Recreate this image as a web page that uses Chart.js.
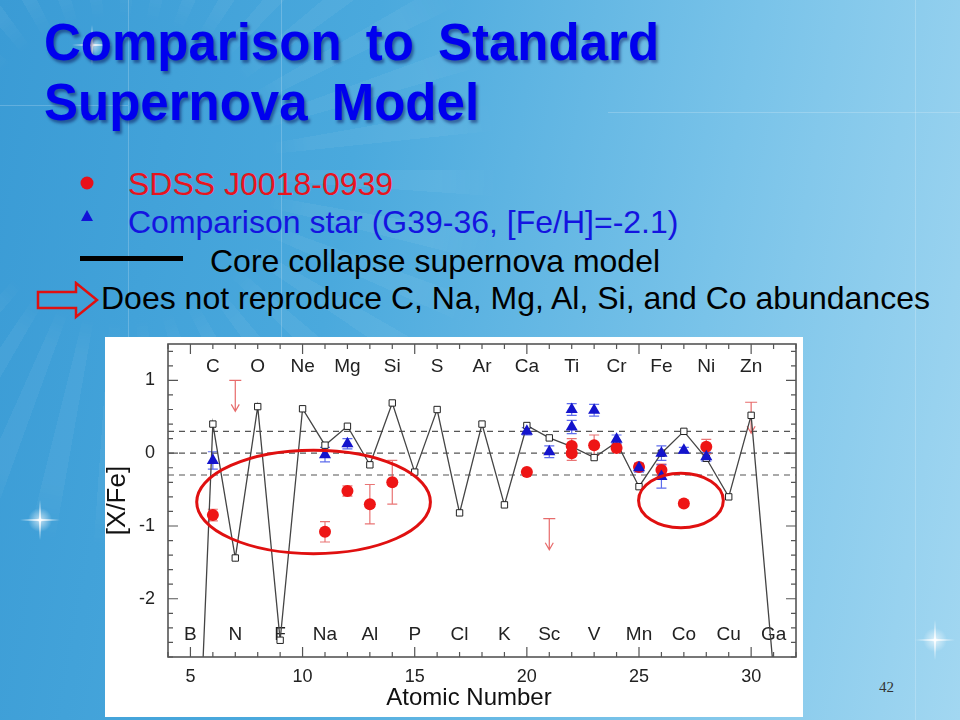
<!DOCTYPE html>
<html>
<head>
<meta charset="utf-8">
<title>Comparison to Standard Supernova Model</title>
<script src="https://cdn.jsdelivr.net/npm/chart.js@4.4.1/dist/chart.umd.min.js"></script>
<style>
html, body { margin: 0; padding: 0; }
body {
    width: 960px; height: 720px; position: relative; overflow: hidden;
    font-family: "Liberation Sans", Arial, sans-serif;
    background: linear-gradient(100deg, #3a9bd5 0%, #4aa9dd 35%, #79c3e9 70%, #a2d7f1 100%);
}
.rays {
    position: absolute; left: 0; top: 0; width: 960px; height: 720px;
    background: repeating-conic-gradient(from 0deg at 120px 170px, rgba(255,255,255,0.05) 0deg 4deg, rgba(255,255,255,0) 4deg 10deg);
    -webkit-mask-image: radial-gradient(circle at 120px 170px, transparent 150px, #000 190px, #000 320px, transparent 380px);
    mask-image: radial-gradient(circle at 120px 170px, transparent 150px, #000 190px, #000 320px, transparent 380px);
}
.hline, .vline { position: absolute; background: rgba(255,255,255,0.2); }
.hline { height: 1px; }
.vline { width: 1px; }
.spark {
    position: absolute; width: 40px; height: 40px; margin: -20px 0 0 -20px;
    background: radial-gradient(circle, rgba(255,255,255,0.95) 0, rgba(255,255,255,0.5) 3px, rgba(255,255,255,0) 12px);
}
.spark::before, .spark::after {
    content: ""; position: absolute; left: 0; top: 19px; width: 40px; height: 2px;
    background: linear-gradient(90deg, rgba(255,255,255,0), rgba(255,255,255,0.9), rgba(255,255,255,0));
}
.spark::after { transform: rotate(90deg); }
.title {
    position: absolute; left: 44px; font-weight: bold; font-size: 51px; line-height: 1;
    color: #0000ee; text-shadow: 2px 3px 3px rgba(0,0,70,0.45); white-space: nowrap; word-spacing: 10px;
}
.legend { position: absolute; font-size: 32px; line-height: 1; white-space: nowrap; }
#panel {
    position: absolute; left: 105px; top: 337px; width: 698px; height: 380px; background: #fff;
}
.pagenum { position: absolute; left: 879px; top: 679px; font-family: "Liberation Serif", "DejaVu Serif", serif; font-size: 15px; color: #333; }
</style>
</head>
<body>
<div class="rays"></div>
<div class="vline" style="left:128px; top:0; height:340px;"></div>
<div class="vline" style="left:281px; top:0; height:340px;"></div>
<div class="vline" style="left:915px; top:0; height:720px;"></div>
<div class="hline" style="left:0; top:105px; width:128px;"></div>
<div class="hline" style="left:608px; top:112px; width:352px;"></div>
<div class="spark" style="left:92px; top:45px;"></div>
<div class="spark" style="left:40px; top:520px;"></div>
<div class="spark" style="left:935px; top:640px;"></div>

<div class="title" style="top:17px;">Comparison to Standard</div>
<div class="title" style="top:77px;">Supernova Model</div>

<svg style="position:absolute; left:80px; top:176px;" width="16" height="16"><circle cx="7" cy="7" r="6.5" fill="#e8101a"/></svg>
<div class="legend" style="left:128px; top:168px; color:#e8141e;">SDSS J0018-0939</div>
<svg style="position:absolute; left:80px; top:209px;" width="14" height="14"><path d="M7,1 L13,12 L1,12 Z" fill="#1212d8"/></svg>
<div class="legend" style="left:128px; top:206px; color:#1414e0;">Comparison star (G39-36, [Fe/H]=-2.1)</div>
<div style="position:absolute; left:80px; top:256px; width:103px; height:5px; background:#000;"></div>
<div class="legend" style="left:210px; top:245px; color:#000;">Core collapse supernova model</div>
<svg style="position:absolute; left:36px; top:281px;" width="64" height="40">
    <path d="M2,11 H40 V2 L61,19 L40,36 V27 H2 Z" fill="none" stroke="#e01010" stroke-width="2.5" stroke-linejoin="miter"/>
</svg>
<div class="legend" style="left:101px; top:282px; color:#000;">Does not reproduce C, Na, Mg, Al, Si, and Co abundances</div>

<div id="panel"><canvas id="abundChart" width="698" height="380"></canvas></div>
<div class="pagenum">42</div>

<script>
// Atomic number axis + symbols (Z = 5 .. 31)
const elementSymbols = ['B','C','N','O','F','Ne','Na','Mg','Al','Si','P','S','Cl','Ar','K','Ca','Sc','Ti','V','Cr','Mn','Fe','Co','Ni','Cu','Zn','Ga'];
const firstZ = 5;

const xTickValues = [5, 10, 15, 20, 25, 30];
const yTickValues = [-2, -1, 0, 1];

// Core collapse supernova model
const modelZ   = [5, 6, 7, 8, 9, 10, 11, 12, 13, 14, 15, 16, 17, 18, 19, 20, 21, 22, 23, 24, 25, 26, 27, 28, 29, 30, 31];
const modelXFe = [-7.0, 0.40, -1.44, 0.64, -2.57, 0.61, 0.11, 0.37, -0.16, 0.69, -0.26, 0.60, -0.82, 0.40, -0.71, 0.38, 0.21, 0.09, -0.06, 0.15, -0.46, 0.00, 0.30, -0.07, -0.60, 0.52, -3.0];

// SDSS J0018-0939
const sdssZ   = [6, 11, 12, 13, 14, 20, 22, 22, 23, 24, 25, 26, 27, 28];
const sdssXFe = [-0.85, -1.08, -0.52, -0.70, -0.40, -0.26, 0.10, 0.00, 0.11, 0.07, -0.19, -0.23, -0.69, 0.09];
const sdssErr = [0.08, 0.14, 0.07, 0.27, 0.30, 0.00, 0.10, 0.10, 0.14, 0.05, 0.05, 0.08, 0.04, 0.10];

// upper limits for SDSS J0018-0939
const sdssLimitZ   = [7, 21, 30];
const sdssLimitXFe = [1.00, -0.90, 0.70];

// Comparison star G39-36
const compZ   = [6, 11, 12, 20, 21, 22, 22, 23, 24, 25, 26, 26, 27, 28];
const compXFe = [-0.10, -0.02, 0.13, 0.30, 0.02, 0.60, 0.36, 0.59, 0.19, -0.20, 0.00, -0.32, 0.04, -0.05];
const compErr = [0.12, 0.10, 0.07, 0.05, 0.08, 0.08, 0.09, 0.08, 0.06, 0.06, 0.10, 0.16, 0.04, 0.06];

// solar-ratio band
const bandLines = [-0.3, 0, 0.3];

// highlight rings: [centre Z, centre X/Fe, half-width in Z, half-height in X/Fe]
const highlightRings = [
    [10.49, -0.67, 5.21, 0.71],
    [26.87, -0.65, 1.89, 0.375]
];

const FONT = '"Liberation Sans", Arial, sans-serif';

function toPoints(xs, ys, errs) {
    return xs.map((z, i) => ({ x: z, y: ys[i], err: errs ? errs[i] : 0 }));
}

function drawErrorBars(chart, dsIndex, color) {
    const { ctx, scales: { x, y } } = chart;
    const pts = chart.data.datasets[dsIndex].data;
    ctx.save();
    ctx.strokeStyle = color;
    ctx.lineWidth = 1.2;
    pts.forEach(p => {
        if (!p.err) return;
        const px = x.getPixelForValue(p.x);
        const top = y.getPixelForValue(p.y + p.err);
        const bot = y.getPixelForValue(p.y - p.err);
        ctx.beginPath();
        ctx.moveTo(px, top); ctx.lineTo(px, bot);
        ctx.moveTo(px - 5, top); ctx.lineTo(px + 5, top);
        ctx.moveTo(px - 5, bot); ctx.lineTo(px + 5, bot);
        ctx.stroke();
    });
    ctx.restore();
}

const abundancePlugin = {
    id: 'abundancePlugin',
    beforeDatasetsDraw(chart) {
        const { ctx, chartArea: a, scales: { x, y } } = chart;

        // dashed reference lines
        ctx.save();
        ctx.strokeStyle = '#555';
        ctx.lineWidth = 1.2;
        ctx.setLineDash([6, 5]);
        bandLines.forEach(v => {
            const py = y.getPixelForValue(v);
            ctx.beginPath(); ctx.moveTo(a.left, py); ctx.lineTo(a.right, py); ctx.stroke();
        });
        ctx.restore();

        // element symbols, even Z on top row, odd Z on bottom row
        ctx.save();
        ctx.font = '19px ' + FONT;
        ctx.fillStyle = '#222';
        ctx.textAlign = 'center';
        ctx.textBaseline = 'middle';
        elementSymbols.forEach((s, i) => {
            const z = firstZ + i;
            const px = x.getPixelForValue(z);
            const py = z % 2 === 0 ? a.top + 23 : a.bottom - 22;
            ctx.fillText(s, px, py);
        });
        ctx.restore();

        drawErrorBars(chart, 2, 'rgba(225, 70, 70, 0.75)');
        drawErrorBars(chart, 1, 'rgba(40, 60, 230, 0.75)');

        // upper limits (bar + down arrow)
        ctx.save();
        ctx.strokeStyle = 'rgba(225, 70, 70, 0.8)';
        ctx.lineWidth = 1.2;
        sdssLimitZ.forEach((z, i) => {
            const px = x.getPixelForValue(z);
            const py = y.getPixelForValue(sdssLimitXFe[i]);
            ctx.beginPath();
            ctx.moveTo(px - 6, py); ctx.lineTo(px + 6, py);
            ctx.moveTo(px, py); ctx.lineTo(px, py + 31);
            ctx.moveTo(px - 4, py + 24); ctx.lineTo(px, py + 31); ctx.lineTo(px + 4, py + 24);
            ctx.stroke();
        });
        ctx.restore();
    },
    afterDatasetsDraw(chart) {
        const { ctx, chartArea: a, scales: { x, y } } = chart;
        ctx.save();
        ctx.strokeStyle = '#555';
        ctx.lineWidth = 1.2;

        // inward ticks on all four sides
        ctx.beginPath();
        for (let z = 4; z <= 32; z++) {
            const px = x.getPixelForValue(z);
            const len = z % 5 === 0 ? 10 : 5;
            ctx.moveTo(px, a.bottom); ctx.lineTo(px, a.bottom - len);
            ctx.moveTo(px, a.top); ctx.lineTo(px, a.top + len);
        }
        for (let k = -14; k <= 7; k++) {
            const py = y.getPixelForValue(k * 0.2);
            const len = k % 5 === 0 ? 10 : 5;
            ctx.moveTo(a.left, py); ctx.lineTo(a.left + len, py);
            ctx.moveTo(a.right, py); ctx.lineTo(a.right - len, py);
        }
        ctx.stroke();

        ctx.lineWidth = 1.6;
        ctx.strokeRect(a.left, a.top, a.right - a.left, a.bottom - a.top);
        ctx.restore();

        // x axis title (sits a little left of the plot centre in the original)
        ctx.save();
        ctx.font = '24px ' + FONT;
        ctx.fillStyle = '#111';
        ctx.textAlign = 'center';
        ctx.textBaseline = 'alphabetic';
        ctx.fillText('Atomic Number', (a.left + a.right) / 2 - 13, a.bottom + 48);
        ctx.restore();

        // red highlight rings
        ctx.save();
        ctx.strokeStyle = '#e01010';
        ctx.lineWidth = 3;
        highlightRings.forEach(([cz, cv, hz, hv]) => {
            const cx = x.getPixelForValue(cz);
            const cy = y.getPixelForValue(cv);
            const rx = Math.abs(x.getPixelForValue(cz + hz) - cx);
            const ry = Math.abs(y.getPixelForValue(cv + hv) - cy);
            ctx.beginPath();
            ctx.ellipse(cx, cy, rx, ry, 0, 0, Math.PI * 2);
            ctx.stroke();
        });
        ctx.restore();
    }
};

new Chart(document.getElementById('abundChart'), {
    type: 'scatter',
    data: {
        datasets: [
            {
                label: 'Core collapse supernova model',
                data: toPoints(modelZ, modelXFe),
                showLine: true,
                borderColor: '#444',
                borderWidth: 1.3,
                pointStyle: 'rect',
                pointRadius: 4.5,
                pointBackgroundColor: '#fff',
                pointBorderColor: '#222',
                pointBorderWidth: 1,
                order: 3
            },
            {
                label: 'Comparison star (G39-36)',
                data: toPoints(compZ, compXFe, compErr),
                pointStyle: 'triangle',
                pointRadius: 7,
                pointBackgroundColor: '#1414cc',
                pointBorderColor: '#1414cc',
                pointBorderWidth: 0,
                order: 1
            },
            {
                label: 'SDSS J0018-0939',
                data: toPoints(sdssZ, sdssXFe, sdssErr),
                pointStyle: 'circle',
                pointRadius: 6,
                pointBackgroundColor: '#ee1515',
                pointBorderColor: '#ee1515',
                pointBorderWidth: 0,
                order: 2
            }
        ]
    },
    options: {
        responsive: false,
        animation: false,
        layout: { padding: { top: 5, right: 5, left: 0, bottom: 0 } },
        plugins: { legend: { display: false }, tooltip: { enabled: false } },
        scales: {
            x: {
                type: 'linear', min: 4, max: 32,
                afterBuildTicks: s => { s.ticks = xTickValues.map(v => ({ value: v })); },
                afterFit: s => { s.height = 60; s.paddingLeft = 0; s.paddingRight = 0; },
                grid: { display: false, drawTicks: false },
                border: { display: false },
                ticks: { font: { size: 18, family: FONT }, color: '#222', padding: 9, maxRotation: 0, autoSkip: false }
            },
            y: {
                type: 'linear', min: -2.8, max: 1.5,
                afterBuildTicks: s => { s.ticks = yTickValues.map(v => ({ value: v })); },
                afterFit: s => { s.width = 63; s.paddingTop = 0; s.paddingBottom = 0; },
                grid: { display: false, drawTicks: false },
                border: { display: false },
                ticks: { font: { size: 18, family: FONT }, color: '#222', padding: 13 },
                title: { display: true, text: '[X/Fe]', color: '#111', font: { size: 26, family: FONT, lineHeight: 1 }, padding: 0 }
            }
        }
    },
    plugins: [abundancePlugin]
});
</script>
</body>
</html>
